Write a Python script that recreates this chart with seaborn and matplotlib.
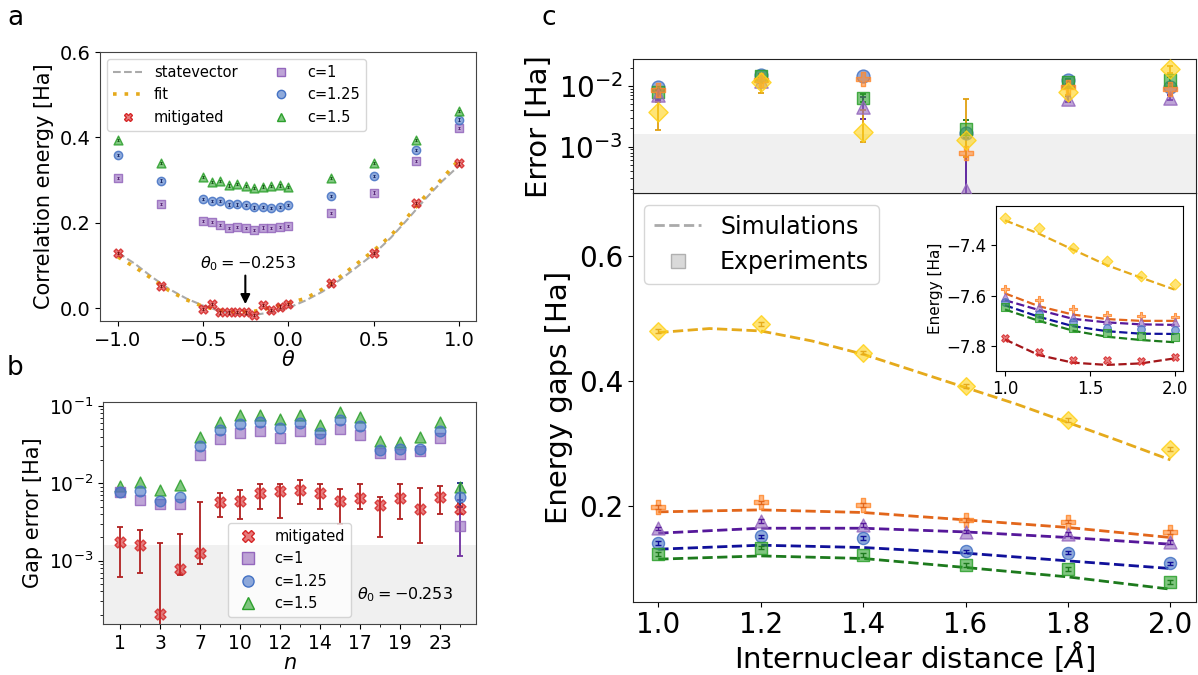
import numpy as np
import matplotlib
matplotlib.use('Agg')
import matplotlib.pyplot as plt
import seaborn as sns
from matplotlib.colors import to_rgba
from matplotlib.lines import Line2D
from matplotlib.ticker import FixedLocator

sns.set_style('ticks')
plt.rcParams['font.family'] = ['DejaVu Sans']
plt.rcParams['mathtext.fontset'] = 'dejavusans'
plt.rcParams.update({'text.color': 'black', 'axes.labelcolor': 'black',
                     'xtick.color': 'black', 'ytick.color': 'black'})

# ---------------- panel a data ----------------
theta_pts = [-1.0, -0.75, -0.5, -0.45, -0.4, -0.35, -0.3, -0.25, -0.2, -0.15,
             -0.1, -0.05, 0.0, 0.25, 0.5, 0.75, 1.0]
a_c1 = [0.305, 0.245, 0.205, 0.201, 0.195, 0.188, 0.191, 0.187, 0.184, 0.189,
        0.187, 0.191, 0.192, 0.223, 0.271, 0.344, 0.422]
a_c125 = [0.359, 0.299, 0.256, 0.251, 0.252, 0.243, 0.243, 0.241, 0.236, 0.238,
          0.235, 0.238, 0.241, 0.263, 0.309, 0.370, 0.442]
a_c15 = [0.393, 0.341, 0.307, 0.296, 0.298, 0.2875, 0.291, 0.286, 0.281, 0.285,
         0.287, 0.2875, 0.284, 0.305, 0.341, 0.393, 0.4625]
a_mit = [0.130, 0.053, -0.001, 0.009, -0.010, -0.010, -0.008, -0.010, -0.016, 0.008,
         -0.005, 0.004, 0.010, 0.058, 0.130, 0.247, 0.339]
a_err = 0.0025
theta_curve = [-1.0, -0.9, -0.8, -0.7, -0.6, -0.5, -0.4, -0.3, -0.2, -0.1, 0.0,
               0.1, 0.2, 0.3, 0.4, 0.5, 0.6, 0.7, 0.8, 0.9, 1.0]
statevector = [0.130, 0.104, 0.073, 0.045, 0.023, 0.006, -0.007, -0.013, -0.016, -0.009,
               0.001, 0.018, 0.039, 0.066, 0.096, 0.127, 0.165, 0.209, 0.255, 0.297, 0.334]
fit_curve = [0.120, 0.096, 0.069, 0.041, 0.020, 0.004, -0.005, -0.009, -0.007, 0.001,
             0.012, 0.023, 0.045, 0.073, 0.104, 0.135, 0.170, 0.215, 0.262, 0.303, 0.348]
theta0_label = r'$\theta_0 = -0.253$'
theta0 = -0.253

# ---------------- panel b data ----------------
n_positions = list(range(18))
n_major_pos = [0, 2, 4, 6, 8, 10, 12, 14, 16]
n_tick_labels = ['1', '3', '7', '10', '12', '14', '17', '19', '23']
b_mit = [0.00176, 0.00158, 0.000205, 0.00077, 0.00127, 0.0058, 0.0059, 0.0074, 0.0080,
         0.0082, 0.0074, 0.0059, 0.0064, 0.0052, 0.0065, 0.0046, 0.0067, 0.0046]
b_mit_hi = [0.00275, 0.00245, 0.00168, 0.0022, 0.0058, 0.0074, 0.0082, 0.0099, 0.0097,
            0.011, 0.0099, 0.0084, 0.0099, 0.0066, 0.0099, 0.0087, 0.0093, 0.0055]
b_mit_lo = [0.00062, 0.00069, 0.00001, 0.00065, 0.00091, 0.0037, 0.0034, 0.0047, 0.0035,
            0.0054, 0.0047, 0.0030, 0.0047, 0.0020, 0.0034, 0.0017, 0.0040, 0.0040]
b_c1 = [0.0078, 0.0061, 0.0054, 0.0054, 0.0231, 0.0372, 0.0444, 0.0467, 0.0379,
        0.0467, 0.0372, 0.050, 0.0414, 0.0248, 0.0240, 0.026, 0.0379, 0.0028]
b_c125 = [0.0076, 0.0079, 0.0059, 0.0067, 0.0305, 0.048, 0.0586, 0.061, 0.052,
          0.060, 0.044, 0.065, 0.055, 0.0268, 0.0273, 0.0279, 0.0467, 0.0067]
b_c15 = [0.0092, 0.0104, 0.0082, 0.0095, 0.039, 0.062, 0.076, 0.077, 0.067,
         0.077, 0.057, 0.084, 0.071, 0.035, 0.034, 0.039, 0.061, 0.0090]
b_c1_last_lo, b_c1_last_hi = 0.00115, 0.0061
b_c125_last_lo, b_c125_last_hi = 0.0050, 0.0100
chem_acc = 1.6e-3

# ---------------- panel c data ----------------
dist = [1.0, 1.2, 1.4, 1.6, 1.8, 2.0]
dist_fine = [1.0, 1.1, 1.2, 1.3, 1.4, 1.5, 1.6, 1.7, 1.8, 1.9, 2.0]
gap5_sim = [0.4777, 0.4841, 0.4803, 0.4643, 0.4431, 0.4165, 0.3899, 0.3633, 0.3341, 0.3047, 0.2744]
gap4_sim = [0.1914, 0.1946, 0.1904, 0.1786, 0.1665, 0.1505]
gap3_sim = [0.1574, 0.1653, 0.1653, 0.1594, 0.1505, 0.1398]
gap2_sim = [0.1318, 0.1382, 0.1345, 0.1255, 0.1132, 0.1010]
gap1_sim = [0.1159, 0.1211, 0.1170, 0.1026, 0.0876, 0.0680]
gap5_exp = [0.480, 0.491, 0.4458, 0.3925, 0.3377, 0.2915]
gap4_exp = [0.1994, 0.2064, 0.2026, 0.1786, 0.1760, 0.1594]
gap3_exp = [0.1649, 0.1770, 0.1700, 0.1600, 0.1556, 0.1435]
gap2_exp = [0.1414, 0.1521, 0.1494, 0.1282, 0.1265, 0.1090]
gap1_exp = [0.1239, 0.1345, 0.1228, 0.1063, 0.1000, 0.0797]
gap_err = 0.003

err1 = [0.0081, 0.0146, 0.0064, 0.00194, 0.0118, 0.0126]
err2 = [0.0095, 0.0152, 0.0146, 0.00166, 0.0126, 0.0095]
err3 = [0.0071, 0.0122, 0.00446, 0.00019, 0.0060, 0.0063]
err4 = [0.0086, 0.0126, 0.0129, 0.0008, 0.0095, 0.0088]
err5 = [0.00377, 0.0118, 0.00177, 0.00129, 0.0081, 0.0188]
err5_lo = [0.0019, 0.0078, 0.00121, 0.00068, 0.0070, 0.0165]
err5_hi = [0.0055, 0.0152, 0.0040, 0.0060, 0.0095, 0.0215]
err3_lo = [0.0058, 0.0110, 0.0029, 0.000001, 0.0055, 0.0058]
err3_hi = [0.0085, 0.0135, 0.0067, 0.00166, 0.0068, 0.0070]
err1_lo = [0.0075, 0.0135, 0.0055, 0.0014, 0.0108, 0.0112]
err1_hi = [0.0088, 0.0158, 0.0074, 0.0028, 0.0128, 0.0142]

E0_exp = [-7.770, -7.822, -7.855, -7.855, -7.858, -7.842]
E0_sim = [-7.774, -7.836, -7.866, -7.875, -7.869, -7.849]
E1_exp = [-7.647, -7.690, -7.730, -7.750, -7.760, -7.764]
E1_sim = [-7.655, -7.700, -7.739, -7.763, -7.776, -7.785]
E2_exp = [-7.627, -7.671, -7.705, -7.727, -7.733, -7.735]
E2_sim = [-7.638, -7.684, -7.721, -7.741, -7.751, -7.752]
E3_exp = [-7.607, -7.647, -7.686, -7.697, -7.705, -7.705]
E3_sim = [-7.618, -7.657, -7.692, -7.706, -7.714, -7.716]
E4_exp = [-7.572, -7.618, -7.653, -7.675, -7.681, -7.684]
E4_sim = [-7.591, -7.642, -7.675, -7.693, -7.700, -7.700]
E5_exp = [-7.290, -7.330, -7.409, -7.462, -7.523, -7.552]
E5_sim = [-7.301, -7.354, -7.417, -7.479, -7.528, -7.576]

# ---------------- colours ----------------
C_PURPLE = '#9467bd'
C_BLUE = '#4472c4'
C_GREEN = '#2ca02c'
C_RED = '#d62728'
C_GOLD = '#ffd21a'
C_ORANGE = '#ff8a30'
L_GOLD = '#e5aa1c'
L_ORANGE = '#e2661b'
L_PURPLE = '#56189a'
L_BLUE = '#10109a'
L_GREEN = '#1d7a1d'
L_RED = '#a3161a'


def pts(ax, x, y, color, marker, s, alpha=0.6, zorder=3, lw=1.0):
    sns.scatterplot(x=x, y=y, ax=ax, marker=marker, s=s,
                    color=to_rgba(color, alpha), edgecolor=to_rgba(color, 0.85),
                    linewidth=lw, zorder=zorder, legend=False)


def ebar(ax, x, y, lo, hi, color, zorder=2.5, lw=1.2, cap=2.5):
    y = np.asarray(y, float)
    yerr = [y - np.asarray(lo, float), np.asarray(hi, float) - y]
    ax.errorbar(x, y, yerr=yerr, fmt='none', ecolor=color, elinewidth=lw,
                capsize=cap, capthick=lw, zorder=zorder)


fig = plt.figure(figsize=(11.98, 6.75), dpi=100)
SPINE = '#444444'

# ================= panel a =================
axa = fig.add_axes([0.0835, 0.5244, 0.3139, 0.3985])
sns.lineplot(x=theta_curve, y=statevector, ax=axa, color='#aaaaaa', linestyle='--', lw=1.5, zorder=1)
sns.lineplot(x=theta_curve, y=fit_curve, ax=axa, color=L_GOLD, linestyle=(0, (1, 2.2)), lw=2.6, zorder=1.5)
for yv, col, ecol, mk, s in [(a_c1, C_PURPLE, '#5a2a7a', 's', 34), (a_c125, C_BLUE, '#1a2a6a', 'o', 36),
                             (a_c15, C_GREEN, '#1a5a1a', '^', 40), (a_mit, C_RED, '#7a1010', 'X', 42)]:
    pts(axa, theta_pts, yv, col, mk, s)
    yy = np.asarray(yv)
    ebar(axa, theta_pts, yy, yy - a_err, yy + a_err, ecol, zorder=3.5, lw=0.7, cap=1.0)
axa.annotate('', xy=(theta0, 0.003), xytext=(theta0, 0.083),
             arrowprops=dict(arrowstyle='-|>', color='black', lw=1.5, mutation_scale=14))
axa.text(-0.24, 0.104, theta0_label, ha='center', va='center', fontsize=11.5)
axa.set_xlim(-1.105, 1.1)
axa.set_ylim(-0.03, 0.6)
axa.set_xticks([-1.0, -0.5, 0.0, 0.5, 1.0])
axa.set_yticks([0.0, 0.2, 0.4, 0.6])
axa.tick_params(labelsize=14)
axa.set_xlabel(r'$\theta$', fontsize=15, labelpad=0)
axa.set_ylabel('Correlation energy [Ha]', fontsize=15)
h_a = [Line2D([], [], color='#aaaaaa', ls='--', lw=1.5),
       Line2D([], [], color=L_GOLD, ls=(0, (1, 2.2)), lw=2.6),
       Line2D([], [], ls='', marker='X', ms=6, mfc=to_rgba(C_RED, 0.6), mec=C_RED),
       Line2D([], [], ls='', marker='s', ms=6, mfc=to_rgba(C_PURPLE, 0.6), mec=C_PURPLE),
       Line2D([], [], ls='', marker='o', ms=6, mfc=to_rgba(C_BLUE, 0.6), mec=C_BLUE),
       Line2D([], [], ls='', marker='^', ms=6, mfc=to_rgba(C_GREEN, 0.6), mec=C_GREEN)]
axa.legend(h_a, ['statevector', 'fit', 'mitigated', 'c=1', 'c=1.25', 'c=1.5'],
           loc='upper left', ncol=2, fontsize=10.5, columnspacing=2.0, frameon=True)

# ================= panel b =================
axb = fig.add_axes([0.086, 0.0756, 0.3114, 0.3289])
axb.set_yscale('log')
axb.axhspan(1e-6, chem_acc, color='#f0f0f0', zorder=0, lw=0)
ebar(axb, n_positions, b_mit, b_mit_lo, b_mit_hi, '#b02020', zorder=2, lw=1.3, cap=2.5)
ebar(axb, [17], [b_c1[17]], [b_c1_last_lo], [b_c1_last_hi], '#7030a0', zorder=2, lw=1.3, cap=2.5)
ebar(axb, [17], [b_c125[17]], [b_c125_last_lo], [b_c125_last_hi], '#1a2a8a', zorder=2, lw=1.3, cap=2.5)
pts(axb, n_positions, b_c15, C_GREEN, '^', 62)
pts(axb, n_positions, b_c1, C_PURPLE, 's', 55)
pts(axb, n_positions, b_c125, C_BLUE, 'o', 58)
pts(axb, n_positions, b_mit, C_RED, 'X', 62, zorder=4)
axb.set_xlim(-0.85, 17.8)
axb.set_ylim(1.52e-4, 0.112)
axb.xaxis.set_major_locator(FixedLocator(n_major_pos))
axb.set_xticklabels(n_tick_labels)
axb.xaxis.set_minor_locator(FixedLocator([p for p in n_positions if p not in n_major_pos]))
axb.tick_params(labelsize=13.5)
axb.set_xlabel(r'$n$', fontsize=15, labelpad=0)
axb.set_ylabel('Gap error [Ha]', fontsize=15)
h_b = [Line2D([], [], ls='', marker='X', ms=8, mfc=to_rgba(C_RED, 0.6), mec=C_RED),
       Line2D([], [], ls='', marker='s', ms=8, mfc=to_rgba(C_PURPLE, 0.6), mec=C_PURPLE),
       Line2D([], [], ls='', marker='o', ms=8, mfc=to_rgba(C_BLUE, 0.6), mec=C_BLUE),
       Line2D([], [], ls='', marker='^', ms=8, mfc=to_rgba(C_GREEN, 0.6), mec=C_GREEN)]
axb.legend(h_b, ['mitigated', 'c=1', 'c=1.25', 'c=1.5'], loc='lower left',
           bbox_to_anchor=(0.335, 0.032), borderaxespad=0, fontsize=10.5, frameon=True)
axb.text(0.81, 0.13, theta0_label, transform=axb.transAxes, ha='center', va='center', fontsize=11.5)

# ================= panel c (bottom) =================
axc = fig.add_axes([0.5281, 0.1086, 0.4702, 0.6050])
sns.lineplot(x=dist_fine, y=gap5_sim, ax=axc, color=L_GOLD, linestyle='--', lw=2.0, zorder=2)
for ys, col in [(gap4_sim, L_ORANGE), (gap3_sim, L_PURPLE), (gap2_sim, L_BLUE), (gap1_sim, L_GREEN)]:
    sns.lineplot(x=dist, y=ys, ax=axc, color=col, linestyle='--', lw=2.0, zorder=2)
for ye, col, lcol, mk, s in [(gap5_exp, C_GOLD, L_GOLD, 'D', 80), (gap4_exp, C_ORANGE, L_ORANGE, 'P', 95),
                             (gap3_exp, C_PURPLE, L_PURPLE, '^', 85), (gap2_exp, C_BLUE, L_BLUE, 'o', 75),
                             (gap1_exp, C_GREEN, L_GREEN, 's', 70)]:
    pts(axc, dist, ye, col, mk, s)
    yy = np.asarray(ye)
    ebar(axc, dist, yy, yy - gap_err, yy + gap_err, lcol, zorder=3.5, lw=1.0, cap=2.0)
axc.set_xlim(0.95, 2.05)
axc.set_ylim(0.048, 0.70)
axc.set_xticks([1.0, 1.2, 1.4, 1.6, 1.8, 2.0])
axc.set_yticks([0.2, 0.4, 0.6])
axc.tick_params(labelsize=20)
axc.set_xlabel(r'Internuclear distance [$\AA$]', fontsize=21, labelpad=0)
axc.set_ylabel('Energy gaps [Ha]', fontsize=21)
h_c = [Line2D([], [], color='#aaaaaa', ls='--', lw=2.0),
       Line2D([], [], ls='', marker='s', ms=10, mfc='#d9d9d9', mec='#b0b0b0')]
axc.legend(h_c, ['Simulations', 'Experiments'], loc='upper left', fontsize=17, frameon=True)

# ================= panel c (top) =================
axt = fig.add_axes([0.5281, 0.7136, 0.4702, 0.1985], sharex=axc)
axt.set_yscale('log')
axt.axhspan(1e-7, 1.59e-3, color='#f0f0f0', zorder=0, lw=0)
ebar(axt, dist, err1, err1_lo, err1_hi, L_GREEN, lw=1.3)
ebar(axt, dist, err3, err3_lo, err3_hi, L_PURPLE, lw=1.3)
ebar(axt, dist, err5, err5_lo, err5_hi, '#e0a010', lw=1.3)
pts(axt, dist, err2, C_BLUE, 'o', 85)
pts(axt, dist, err1, C_GREEN, 's', 85)
pts(axt, dist, err3, C_PURPLE, '^', 90)
pts(axt, dist, err4, C_ORANGE, 'P', 100)
pts(axt, dist, err5, C_GOLD, 'D', 95)
axt.set_ylim(1.7e-4, 0.0275)
axt.tick_params(axis='x', bottom=False, labelbottom=False)
axt.tick_params(axis='y', labelsize=20)
axt.set_ylabel('Error [Ha]', fontsize=21)

# ================= inset =================
axi = fig.add_axes([0.8311, 0.4508, 0.1561, 0.2440])
for ys, col in [(E5_sim, L_GOLD), (E4_sim, L_ORANGE), (E3_sim, L_PURPLE),
                (E2_sim, L_BLUE), (E1_sim, L_GREEN), (E0_sim, L_RED)]:
    sns.lineplot(x=dist, y=ys, ax=axi, color=col, linestyle='--', lw=1.6, zorder=2)
for ye, col, mk, s in [(E5_exp, C_GOLD, 'D', 30), (E4_exp, C_ORANGE, 'P', 38), (E3_exp, C_PURPLE, '^', 34),
                       (E2_exp, C_BLUE, 'o', 30), (E1_exp, C_GREEN, 's', 28), (E0_exp, C_RED, 'X', 30)]:
    pts(axi, dist, ye, col, mk, s, lw=0.8)
axi.set_xlim(0.945, 2.047)
axi.set_ylim(-7.898, -7.244)
axi.set_xticks([1.0, 1.5, 2.0])
axi.set_yticks([-7.4, -7.6, -7.8])
axi.tick_params(labelsize=12)
axi.set_ylabel('Energy [Ha]', fontsize=11, labelpad=2)
for sp in axi.spines.values():
    sp.set_color('black')

for ax in [axa, axb]:
    for sp in ax.spines.values():
        sp.set_color(SPINE)
for ax in [axc, axt]:
    for sp in ax.spines.values():
        sp.set_color('#222222')

fig.text(0.0125, 0.973, 'a', fontsize=19, ha='center', va='center')
fig.text(0.0125, 0.4548, 'b', fontsize=19, ha='center', va='center')
fig.text(0.458, 0.973, 'c', fontsize=19, ha='center', va='center')

fig.savefig('out.png', dpi=100)
